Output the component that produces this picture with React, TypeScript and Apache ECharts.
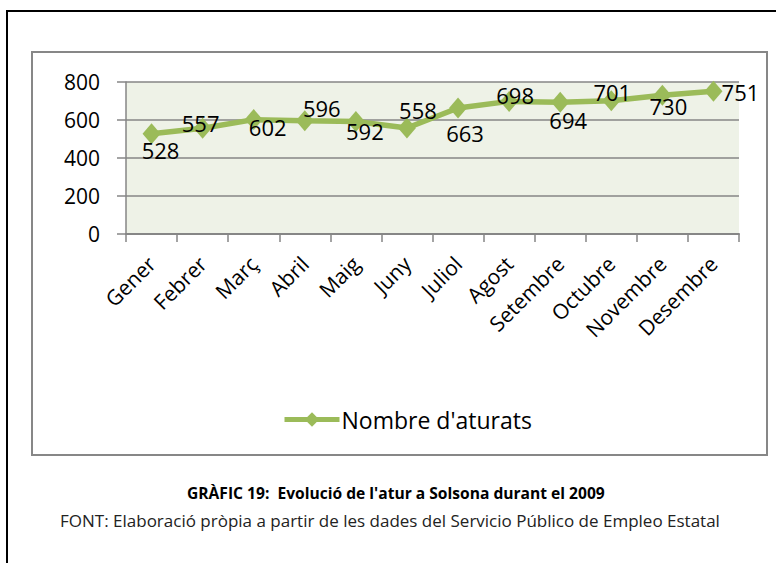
import React, { useEffect, useRef } from "react";
import * as echarts from "echarts";

const categories = ["Gener", "Febrer", "Març", "Abril", "Maig", "Juny", "Juliol", "Agost", "Setembre", "Octubre", "Novembre", "Desembre"];
const values = [528, 557, 602, 596, 592, 558, 663, 698, 694, 701, 730, 751];
const seriesName = "Nombre d'aturats";
const yTicks = { min: 0, max: 800, interval: 200 };
const captionTitle = "GRÀFIC 19:  Evolució de l'atur a Solsona durant el 2009";
const captionSource = "FONT: Elaboració pròpia a partir de les dades del Servicio Público de Empleo Estatal";

// label placement (layout only)
const labelOffsets: [number, number][] = [
  [9, 16], [-2, -5], [14, 7], [17, -13], [9, 9], [11, -18],
  [7, 25], [6, -6], [8, 18], [1, -9], [6, 11], [27, 1],
];

const GREEN = "#9BBB59";
const GRAY = "#868686";
const FONT = "'Open Sans', 'Noto Sans', sans-serif";

export default function App() {
  const ref = useRef<HTMLDivElement>(null);
  useEffect(() => {
    if (!ref.current) return;
    const chart = echarts.init(ref.current, undefined, { renderer: "svg" });
    chart.setOption({
      animation: false,
      backgroundColor: "#ffffff",
      grid: {
        left: 126, top: 82, right: 37, bottom: 329,
        show: true, backgroundColor: "#EEF2E7", borderWidth: 0,
      },
      xAxis: {
        type: "category",
        data: categories,
        boundaryGap: true,
        axisLine: { show: true, lineStyle: { color: GRAY, width: 2 } },
        axisTick: { show: true, length: 8, lineStyle: { color: GRAY, width: 1.5 } },
        axisLabel: {
          rotate: 45, margin: 26, interval: 0,
          fontFamily: FONT, fontSize: 21, color: "#000",
        },
        splitLine: { show: false },
      },
      yAxis: {
        type: "value",
        min: yTicks.min, max: yTicks.max, interval: yTicks.interval,
        axisLine: { show: true, lineStyle: { color: GRAY, width: 1.5 } },
        axisTick: { show: true, length: 9, lineStyle: { color: GRAY, width: 1.5 } },
        axisLabel: { margin: 26, fontFamily: FONT, fontSize: 21, color: "#000" },
        splitLine: { show: true, lineStyle: { color: GRAY, width: 1.5 } },
      },
      legend: {
        show: true,
        left: 277, top: 403,
        itemWidth: 55, itemHeight: 18,
        itemGap: 10,
        lineStyle: { color: GREEN, width: 5 },
        itemStyle: { color: GREEN },
        textStyle: { fontFamily: FONT, fontSize: 23, color: "#000", padding: [0, 0, 0, -3] },
        data: [seriesName],
      },
      series: [
        {
          type: "line",
          name: seriesName,
          data: values.map((v, i) => ({
            value: v,
            label: { offset: labelOffsets[i] },
          })),
          symbol: "diamond",
          symbolSize: [18, 21],
          lineStyle: { color: GREEN, width: 5.5 },
          itemStyle: { color: GREEN },
          label: {
            show: true, position: "inside",
            fontFamily: FONT, fontSize: 22, color: "#000",
          },
        },
      ],
      graphic: [
        { type: "line", shape: { x1: 6, y1: 11, x2: 776, y2: 11 }, style: { stroke: "#000", lineWidth: 2 } },
        { type: "line", shape: { x1: 7, y1: 11, x2: 7, y2: 563 }, style: { stroke: "#000", lineWidth: 2 } },
        { type: "rect", shape: { x: 32, y: 52, width: 735, height: 403 }, style: { fill: "none", stroke: "#878787", lineWidth: 2 }, z: -1 },
        {
          type: "text", left: 187, top: 485,
          style: { text: captionTitle, font: "bold 15.6px 'Open Sans', sans-serif", fill: "#000" },
        },
        {
          type: "text", left: 60, top: 512,
          style: { text: captionSource, font: "17px 'Open Sans', sans-serif", fill: "#222" },
        },
      ],
    });
    return () => chart.dispose();
  }, []);
  return <div ref={ref} style={{ position: "fixed", left: 0, top: 0, width: 776, height: 563 }} />;
}
